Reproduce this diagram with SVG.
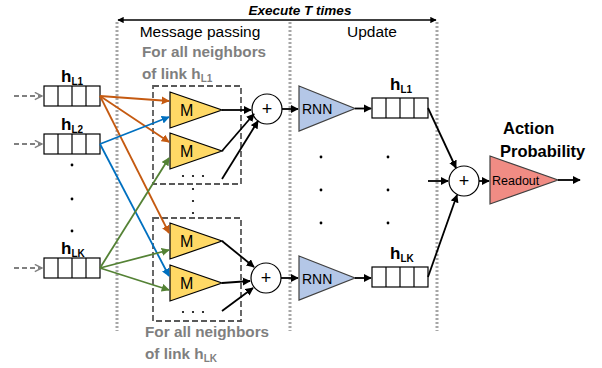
<svg xmlns="http://www.w3.org/2000/svg" width="602" height="368" viewBox="0 0 602 368">
<style>
.t{font-family:"Liberation Sans",Arial,sans-serif;}
.lbl{font-family:"Liberation Sans",Arial,sans-serif;font-size:15.5px;fill:#000;}
.gry{font-family:"Liberation Sans",Arial,sans-serif;font-size:15.3px;font-weight:bold;fill:#7F7F7F;}
.hb{font-family:"Liberation Sans",Arial,sans-serif;font-size:17px;font-weight:bold;fill:#000;}
.sub{font-size:10px;}
.vbox rect{fill:#fff;stroke:#000;stroke-width:1.2;}
.vbox line{stroke:#000;stroke-width:1.2;}
.dot{stroke:#A6A6A6;stroke-width:3;stroke-dasharray:2,2;fill:none;}
.dbox{fill:none;stroke:#595959;stroke-width:1.8;stroke-dasharray:6,3;}
.m{fill:#FFD966;stroke:#000;stroke-width:1.2;}
.rnn{fill:#B4C7E7;stroke:#404040;stroke-width:1.2;}
.ro{fill:#F08C84;stroke:#404040;stroke-width:1.2;}
.plus{fill:#fff;stroke:#000;stroke-width:1.2;}
.k{stroke:#000;stroke-width:1.8;fill:none;marker-end:url(#ak);}
.or{stroke:#C55A11;stroke-width:1.8;fill:none;marker-end:url(#ao);}
.bl{stroke:#0070C0;stroke-width:1.8;fill:none;marker-end:url(#ab);}
.gr{stroke:#548235;stroke-width:1.8;fill:none;marker-end:url(#ag);}
.gd{stroke:#808080;stroke-width:1.8;stroke-dasharray:5,3;fill:none;marker-end:url(#ad);}
</style>
<defs>
<marker id="ak" viewBox="0 0 10 10" refX="9" refY="5" markerWidth="4.5" markerHeight="4.5" orient="auto"><path d="M0,0L10,5L0,10z" fill="#000"/></marker>
<marker id="ao" viewBox="0 0 10 10" refX="9" refY="5" markerWidth="4.5" markerHeight="4.5" orient="auto"><path d="M0,0L10,5L0,10z" fill="#C55A11"/></marker>
<marker id="ab" viewBox="0 0 10 10" refX="9" refY="5" markerWidth="4.5" markerHeight="4.5" orient="auto"><path d="M0,0L10,5L0,10z" fill="#0070C0"/></marker>
<marker id="ag" viewBox="0 0 10 10" refX="9" refY="5" markerWidth="4.5" markerHeight="4.5" orient="auto"><path d="M0,0L10,5L0,10z" fill="#548235"/></marker>
<marker id="ad" viewBox="0 0 10 10" refX="9" refY="5" markerWidth="5" markerHeight="5" orient="auto"><path d="M1,1L9,5L1,9" fill="none" stroke="#808080" stroke-width="1.6"/></marker>
<marker id="as" viewBox="0 0 10 10" refX="1" refY="5" markerWidth="4.5" markerHeight="4.5" orient="auto"><path d="M10,0L0,5L10,10z" fill="#000"/></marker>
<g id="vb" class="vbox"><rect x="0" y="0" width="56" height="20"/><line x1="14" y1="0" x2="14" y2="20"/><line x1="28" y1="0" x2="28" y2="20"/><line x1="42" y1="0" x2="42" y2="20"/></g>
</defs>

<g id="header">
<line x1="118" y1="20" x2="436" y2="20" stroke="#000" stroke-width="1.4" marker-start="url(#as)" marker-end="url(#ak)"/>
<text x="300" y="15" text-anchor="middle" class="t" font-size="13.5" font-weight="bold" font-style="italic">Execute T times</text>
<line class="dot" x1="117" y1="22" x2="117" y2="331"/>
<line class="dot" x1="290" y1="22" x2="290" y2="331"/>
<line class="dot" x1="437" y1="22" x2="437" y2="331"/>
<text x="200" y="37" text-anchor="middle" class="lbl">Message passing</text>
<text x="372" y="37" text-anchor="middle" class="lbl">Update</text>
<text x="142" y="57" class="gry">For all neighbors</text>
<text x="142" y="79" class="gry">of link h<tspan class="sub" dy="3">L1</tspan></text>
<text x="145" y="337" class="gry">For all neighbors</text>
<text x="145" y="359" class="gry">of link h<tspan class="sub" dy="3">LK</tspan></text>
</g>

<g id="in_hL1"><use href="#vb" x="44" y="86"/><text x="61" y="82" class="hb">h<tspan class="sub" dy="3">L1</tspan></text></g>
<g id="in_hL2"><use href="#vb" x="44" y="134"/><text x="61" y="130" class="hb">h<tspan class="sub" dy="3">L2</tspan></text></g>
<g id="in_hLK"><use href="#vb" x="44" y="258"/><text x="61" y="254" class="hb">h<tspan class="sub" dy="3">LK</tspan></text></g>
<g id="in_dots" fill="#000"><circle cx="72" cy="165" r="1.4"/><circle cx="72" cy="199" r="1.4"/><circle cx="72" cy="231" r="1.4"/></g>

<g id="grp_top">
<rect class="dbox" x="153" y="86" width="88" height="98"/>
<g fill="#000"><circle cx="183" cy="176" r="1.1"/><circle cx="193" cy="176" r="1.1"/><circle cx="203" cy="176" r="1.1"/></g>
</g>
<g id="grp_dots" fill="#000"><circle cx="193" cy="189" r="1.1"/><circle cx="193" cy="201" r="1.1"/><circle cx="193" cy="213" r="1.1"/></g>
<g id="grp_bot">
<rect class="dbox" x="153" y="218" width="88" height="103"/>
<g fill="#000"><circle cx="183" cy="312" r="1.1"/><circle cx="193" cy="312" r="1.1"/><circle cx="203" cy="312" r="1.1"/></g>
</g>

<g id="M1"><polygon class="m" points="170,92 222,110 170,128"/><text x="180" y="116" class="t" font-size="16">M</text></g>
<g id="M2"><polygon class="m" points="170,133 222,151 170,169"/><text x="180" y="157" class="t" font-size="16">M</text></g>
<g id="M3"><polygon class="m" points="170,223 222,241 170,259"/><text x="180" y="247" class="t" font-size="16">M</text></g>
<g id="M4"><polygon class="m" points="170,265 222,283 170,301"/><text x="180" y="289" class="t" font-size="16">M</text></g>

<g id="sum1"><circle class="plus" cx="267" cy="109" r="15"/><text x="267" y="115" text-anchor="middle" class="t" font-size="18">+</text></g>
<g id="sum2"><circle class="plus" cx="266" cy="278" r="15"/><text x="266" y="284" text-anchor="middle" class="t" font-size="18">+</text></g>

<g id="RNN1"><polygon class="rnn" points="299,86 355,108.5 299,131"/><text x="302" y="114" class="t" font-size="14">RNN</text></g>
<g id="RNN2"><polygon class="rnn" points="299,256 355,278 299,300"/><text x="302" y="284" class="t" font-size="14">RNN</text></g>

<g id="out_hL1"><use href="#vb" x="372" y="98"/><text x="390" y="90" class="hb">h<tspan class="sub" dy="3">L1</tspan></text></g>
<g id="out_hLK"><use href="#vb" x="372" y="267"/><text x="390" y="259" class="hb">h<tspan class="sub" dy="3">LK</tspan></text></g>
<g id="out_dots" fill="#000"><circle cx="321" cy="157" r="1.4"/><circle cx="321" cy="190" r="1.4"/><circle cx="321" cy="223" r="1.4"/><circle cx="388" cy="157" r="1.4"/><circle cx="388" cy="190" r="1.4"/><circle cx="388" cy="223" r="1.4"/></g>

<g id="sum3"><circle class="plus" cx="464" cy="181" r="15"/><text x="464" y="187" text-anchor="middle" class="t" font-size="18">+</text></g>
<g id="Readout"><polygon class="ro" points="490,156 558,180 490,204"/><text x="492" y="185" class="t" font-size="12.5">Readout</text></g>
<g id="action"><text x="503" y="134" class="t" font-size="16.5" font-weight="bold">Action</text><text x="500" y="157" class="t" font-size="16.5" font-weight="bold">Probability</text></g>

<g id="connectors">
<line class="gd" x1="14" y1="96" x2="42" y2="96"/>
<line class="gd" x1="14" y1="144" x2="42" y2="144"/>
<line class="gd" x1="14" y1="268" x2="42" y2="268"/>
<line class="or" x1="100" y1="96" x2="169" y2="101"/>
<line class="or" x1="100" y1="96" x2="169" y2="142"/>
<line class="or" x1="100" y1="96" x2="169" y2="233"/>
<line class="bl" x1="100" y1="144" x2="169" y2="117"/>
<line class="bl" x1="100" y1="144" x2="169" y2="276"/>
<line class="gr" x1="100" y1="268" x2="169" y2="158"/>
<line class="gr" x1="100" y1="268" x2="169" y2="250"/>
<line class="gr" x1="100" y1="268" x2="169" y2="290"/>
<line class="k" x1="222" y1="110" x2="251" y2="110"/>
<line class="k" x1="222" y1="151" x2="254" y2="114"/>
<line class="k" x1="222" y1="179" x2="258" y2="121"/>
<line class="k" x1="222" y1="241" x2="254" y2="267"/>
<line class="k" x1="222" y1="283" x2="250" y2="281"/>
<line class="k" x1="222" y1="311" x2="253" y2="288"/>
<line class="k" x1="282" y1="109" x2="298" y2="109"/>
<line class="k" x1="281" y1="278" x2="298" y2="278"/>
<line class="k" x1="355" y1="108.5" x2="371" y2="108.5"/>
<line class="k" x1="355" y1="278" x2="371" y2="278"/>
<line class="k" x1="428" y1="108" x2="456" y2="168"/>
<line class="k" x1="428" y1="277" x2="457" y2="195"/>
<line class="k" x1="428" y1="181" x2="448" y2="181"/>
<line class="k" x1="479" y1="181" x2="489" y2="181"/>
<line class="k" x1="558" y1="180" x2="580" y2="180"/>
</g>
</svg>
